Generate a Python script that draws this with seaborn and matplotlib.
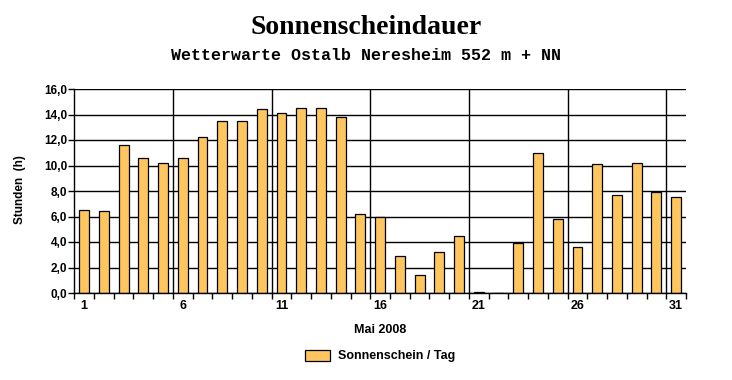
import matplotlib
matplotlib.use("Agg")
import matplotlib.pyplot as plt
import seaborn as sns
import pandas as pd
import numpy as np
from matplotlib.patches import Patch

# --- data ---
days = list(range(1, 32))
sunshine = [6.5, 6.4, 11.6, 10.6, 10.2, 10.6, 12.2, 13.5, 13.5, 14.4,
            14.1, 14.5, 14.5, 13.8, 6.2, 6.0, 2.9, 1.4, 3.2, 4.5,
            0.1, 0.0, 3.9, 11.0, 5.8, 3.6, 10.1, 7.7, 10.2, 7.9, 7.5]
x_tick_days = [1, 6, 11, 16, 21, 26, 31]
y_ticks = [0, 2, 4, 6, 8, 10, 12, 14, 16]
y_tick_labels = ["0,0", "2,0", "4,0", "6,0", "8,0", "10,0", "12,0", "14,0", "16,0"]
title = "Sonnenscheindauer"
subtitle = "Wetterwarte Ostalb Neresheim 552 m + NN"
xlabel = "Mai 2008"
ylabel = "Stunden  (h)"
series_name = "Sonnenschein / Tag"

df = pd.DataFrame({"Tag": days, "Stunden": sunshine})

sns.set_theme(style="white")
plt.rcParams["font.family"] = ["Liberation Sans", "DejaVu Sans"]
plt.rcParams["text.color"] = "black"
plt.rcParams["axes.labelcolor"] = "black"
plt.rcParams["xtick.color"] = "black"
plt.rcParams["ytick.color"] = "black"

fig = plt.figure(figsize=(7.32, 3.80), dpi=100)
ax = fig.add_axes([74.3 / 732, 1 - 293 / 380, (686 - 74.3) / 732, (293 - 89) / 380])

bar_color = "#FFC55E"
sns.barplot(data=df, x="Tag", y="Stunden", native_scale=True, width=0.5,
            color=bar_color, edgecolor="black", linewidth=0.9,
            saturation=1, ax=ax, zorder=3)

ax.set_xlim(0.5, 31.5)
ax.set_ylim(0, 16)

# grid
ax.set_yticks(y_ticks)
ax.set_yticklabels(y_tick_labels, fontsize=8.5, fontweight="bold")
ax.yaxis.grid(True, color="black", linewidth=1.0, zorder=1)
ax.set_axisbelow(True)
for b in [5.5, 10.5, 15.5, 20.5, 25.5, 30.5]:
    ax.axvline(b, color="black", linewidth=1.0, zorder=1)

ax.set_xticks(x_tick_days)
ax.set_xticklabels([str(d) for d in x_tick_days], fontsize=9, fontweight="bold")
ax.set_xticks(np.arange(0.5, 32, 1), minor=True)
ax.tick_params(axis="x", which="major", length=0, pad=5)
ax.tick_params(axis="x", which="minor", length=4, width=1, color="black", direction="out", bottom=True)
ax.tick_params(axis="y", which="major", length=4, width=1, color="black", direction="out", left=True, pad=1)

for s in ["top", "right"]:
    ax.spines[s].set_visible(False)
for s in ["left", "bottom"]:
    ax.spines[s].set_color("black")
    ax.spines[s].set_linewidth(1.0)
    ax.spines[s].set_zorder(4)

ax.set_xlabel("")
ax.set_ylabel("")
fig.text(20 / 732, 1 - 190 / 380, ylabel, rotation=90, ha="center", va="center",
         fontsize=8.5, fontweight="bold", color="black")
fig.text(380 / 732, 1 - 330 / 380, xlabel, ha="center", va="center",
         fontsize=9, fontweight="bold", color="black")

fig.text(366 / 732, 1 - 28 / 380, title, ha="center", va="center",
         fontsize=20, fontweight="bold", color="black",
         family=["Liberation Serif", "DejaVu Serif"])
fig.text(366 / 732, 1 - 56 / 380, subtitle, ha="center", va="center",
         fontsize=12, fontweight="bold", color="black",
         family=["Liberation Mono", "DejaVu Sans Mono"])

handle = Patch(facecolor=bar_color, edgecolor="black", linewidth=0.9)
fig.legend([handle], [series_name], loc="center", bbox_to_anchor=(380 / 732, 1 - 356 / 380),
           frameon=False, prop={"weight": "bold", "size": 9}, handlelength=2.0,
           handleheight=1.0, handletextpad=0.6)

fig.savefig("out.png", dpi=100, facecolor="white")
